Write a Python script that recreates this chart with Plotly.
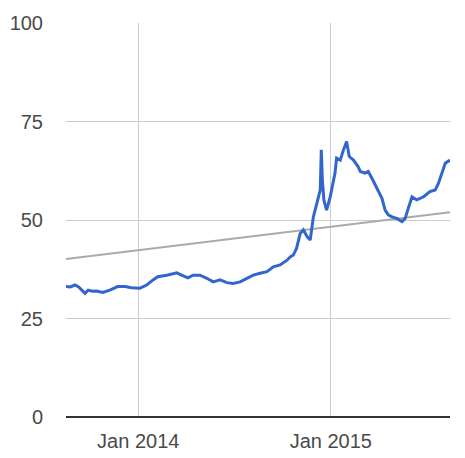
import plotly.graph_objects as go

dates = [
    "2013-08-17", "2013-08-25", "2013-09-03", "2013-09-10", "2013-09-16", "2013-09-22",
    "2013-09-28", "2013-10-06", "2013-10-14", "2013-10-26", "2013-11-08", "2013-11-23",
    "2013-12-07", "2013-12-19", "2014-01-04", "2014-01-17", "2014-01-29", "2014-02-07",
    "2014-02-24", "2014-03-15", "2014-03-24", "2014-04-05", "2014-04-15", "2014-04-28",
    "2014-05-11", "2014-05-23", "2014-06-05", "2014-06-18", "2014-06-30", "2014-07-13",
    "2014-07-26", "2014-08-07", "2014-08-20", "2014-09-02", "2014-09-14", "2014-09-27",
    "2014-10-10", "2014-10-16", "2014-10-22", "2014-10-28", "2014-11-04", "2014-11-10",
    "2014-11-17", "2014-11-23", "2014-11-29", "2014-12-05", "2014-12-12", "2014-12-14",
    "2014-12-16", "2014-12-19", "2014-12-24", "2014-12-31", "2015-01-09", "2015-01-12",
    "2015-01-19", "2015-01-25", "2015-01-31", "2015-02-05", "2015-02-13", "2015-02-22",
    "2015-02-26", "2015-03-07", "2015-03-13", "2015-03-20", "2015-03-29", "2015-04-08",
    "2015-04-14", "2015-04-20", "2015-04-27", "2015-05-06", "2015-05-16", "2015-05-22",
    "2015-05-28", "2015-06-04", "2015-06-13", "2015-06-26", "2015-07-08", "2015-07-18",
    "2015-07-24", "2015-07-31", "2015-08-06", "2015-08-15",
]
values = [
    33.1, 33.0, 33.5, 33.0, 32.2, 31.4,
    32.2, 31.9, 32.0, 31.6, 32.2, 33.1,
    33.1, 32.8, 32.7, 33.5, 34.8, 35.6,
    36.0, 36.6, 36.0, 35.3, 36.0, 36.0,
    35.2, 34.3, 34.8, 34.1, 33.9, 34.3,
    35.2, 36.0, 36.5, 36.9, 38.1, 38.6,
    39.8, 40.6, 41.1, 42.8, 46.6, 47.5,
    45.8, 44.9, 50.8, 54.2, 57.6, 67.8,
    60.2, 55.0, 52.5, 55.9, 61.9, 65.7,
    65.2, 67.8, 69.9, 66.1, 65.2, 63.5,
    62.3, 61.9, 62.3, 60.6, 58.0, 55.5,
    52.5, 51.3, 50.8, 50.4, 49.6, 50.4,
    53.0, 55.9, 55.1, 55.9, 57.2, 57.6,
    59.3, 62.3, 64.4, 65.2,
]

trend_dates = ["2013-08-17", "2015-08-15"]
trend_values = [40.1, 52.0]

x_tick_vals = ["2014-01-01", "2015-01-01"]
x_tick_text = ["Jan 2014", "Jan 2015"]
y_tick_vals = [0, 25, 50, 75, 100]

fig = go.Figure()
fig.add_trace(go.Scatter(
    x=trend_dates, y=trend_values, mode="lines",
    line=dict(color="#aaaaaa", width=2), hoverinfo="skip",
))
fig.add_trace(go.Scatter(
    x=dates, y=values, mode="lines",
    line=dict(color="#3366cc", width=3),
))

fig.update_layout(
    width=465, height=458,
    margin=dict(l=66, r=15, t=23, b=41),
    paper_bgcolor="white", plot_bgcolor="white",
    showlegend=False,
    font=dict(family="Liberation Sans, Arial, sans-serif", size=20, color="#4a4a4a"),
    xaxis=dict(
        type="date",
        range=["2013-08-17", "2015-08-15"],
        tickvals=x_tick_vals, ticktext=x_tick_text,
        showgrid=True, gridcolor="#cccccc", gridwidth=1,
        showline=False, zeroline=False, ticks="",
        ticklabelstandoff=10, automargin=False,
    ),
    yaxis=dict(
        range=[0, 100],
        tickvals=y_tick_vals,
        showgrid=True, gridcolor="#cccccc", gridwidth=1,
        zeroline=True, zerolinecolor="#333333", zerolinewidth=1.5,
        showline=False, ticks="",
        ticklabelstandoff=22, automargin=False,
    ),
)

fig.write_html(
    "out.html",
    config={"displayModeBar": False},
    post_script="document.body.style.margin='0';",
)
